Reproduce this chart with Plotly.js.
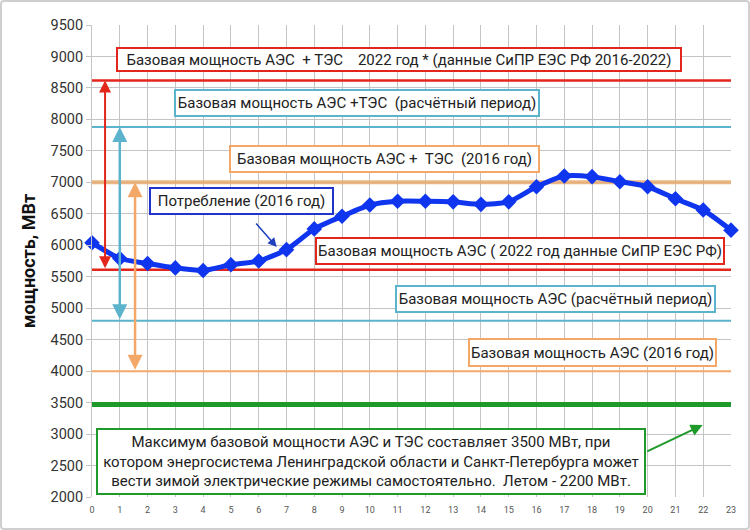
<!DOCTYPE html>
<html><head><meta charset="utf-8">
<script src="https://cdn.plot.ly/plotly-3.0.1.min.js"></script>
<style>
body{margin:0;padding:0;background:#fff;}
#chart{position:absolute;left:0;top:0;width:750px;height:530px;}
#frame{position:absolute;left:0;top:0;width:746px;height:526px;border:2px solid #cfcfcf;border-radius:4px;pointer-events:none;}
</style>
</head><body>
<div id="chart"></div><div id="frame"></div>
<script>
// Data
var hours = [0,1,2,3,4,5,6,7,8,9,10,11,12,13,14,15,16,17,18,19,20,21,22,23];
var consumption2016 = [6040,5790,5710,5640,5600,5690,5750,5930,6260,6460,6640,6700,6700,6690,6650,6690,6930,7100,7090,7010,6930,6740,6560,6240];
var levelNames = ["АЭС+ТЭС 2022","АЭС+ТЭС расчётный","АЭС+ТЭС 2016","АЭС 2022","АЭС расчётный","АЭС 2016","Максимум 3500"];
var levelValues = [8620,7880,7000,5610,4800,4000,3470];
var levelRange = [0,23];
var yTicks = [2000,2500,3000,3500,4000,4500,5000,5500,6000,6500,7000,7500,8000,8500,9000,9500];

var red = '#e3261c', teal = '#5bb3cc', orange = '#f4a868', green = '#1f9a2a', blue = '#0f35ee';
var levelColors = [red, teal, 'rgba(232,170,110,0.85)', red, teal, orange, green];
var levelWidths = [2.5, 2, 4, 2.5, 2, 2, 5];

var traces = [];
for (var i = 0; i < levelValues.length; i++) {
  traces.push({x: levelRange, y: [levelValues[i], levelValues[i]], mode: 'lines', name: levelNames[i],
    line: {color: levelColors[i], width: levelWidths[i]}, hoverinfo: 'skip', showlegend: false});
}
traces.push({x: hours, y: consumption2016, mode: 'lines+markers', name: 'Потребление (2016 год)',
  line: {color: blue, width: 5, shape: 'spline', smoothing: 0.6},
  marker: {symbol: 'diamond', size: 12, color: blue}, cliponaxis: false, showlegend: false});

var F = 'Roboto, "Noto Sans", sans-serif';
function box(text, x, y, w, h, color) {
  return {text: text, x: x, y: y, xref: 'x', yref: 'y', showarrow: false, width: w, height: h,
    bgcolor: '#fff', bordercolor: color, borderwidth: 2, borderpad: 0,
    font: {family: F, size: 15, color: '#222'}, xanchor: 'center', yanchor: 'middle'};
}
function arr(x0, y0, x1, y1, color, both, w) {
  return {text: '', x: x1, y: y1, ax: x0, ay: y0, xref: 'x', yref: 'y', axref: 'x', ayref: 'y',
    showarrow: true, arrowhead: 2, arrowsize: 1.2, arrowwidth: w || 2, arrowcolor: color,
    arrowside: both ? 'end+start' : 'end', startarrowhead: 2, startarrowsize: 1.2};
}

var annotations = [
  box('Базовая мощность АЭС  + ТЭС    2022 год * (данные СиПР ЕЭС РФ 2016-2022)', 11.04, 8952, 562, 21, red),
  box('Базовая мощность АЭС +ТЭС  (расчётный период)', 9.53, 8261, 362, 24, teal),
  box('Базовая мощность АЭС +  ТЭС  (2016 год)', 10.52, 7371, 307, 24, orange),
  box('Потребление (2016 год)', 5.38, 6703, 181, 24, '#2233cc'),
  box('Базовая мощность АЭС ( 2022 год данные СиПР ЕЭС РФ)', 15.4, 5909, 406, 24, red),
  box('Базовая мощность АЭС (расчётный период)', 16.67, 5146, 317, 24, teal),
  box('Базовая мощность АЭС (2016 год)', 18.0, 4296, 245, 25, orange),
  box('Максимум базовой мощности АЭС и ТЭС составляет 3500 МВт, при<br>котором энергосистема Ленинградской области и Санкт-Петербурга может<br>вести зимой электрические режимы самостоятельно.  Летом - 2200 МВт.', 10.04, 2564, 546, 63, green),
  arr(0.47, 5610, 0.47, 8620, red, true, 2),
  arr(1.0, 4800, 1.0, 7880, teal, true, 2.5),
  arr(1.55, 4000, 1.55, 7000, orange, true, 2.5),
  arr(5.86, 6370, 6.65, 5972, '#1f3fbf', false, 1.5),
  arr(19.93, 2715, 21.98, 3144, green, false, 2)
];

var layout = {
  width: 750, height: 530,
  margin: {l: 92, r: 19, t: 25, b: 33},
  paper_bgcolor: '#fff', plot_bgcolor: '#fff',
  font: {family: F},
  xaxis: {range: [0, 23], dtick: 1, tick0: 0, showgrid: true, gridcolor: '#c4c4c4', gridwidth: 1,
    zeroline: false, showline: false, ticks: '', ticklabelstandoff: 6,
    tickfont: {size: 9, color: '#555', family: F}, fixedrange: true},
  yaxis: {range: [2000, 9500], tickvals: yTicks, showgrid: true, gridcolor: '#c4c4c4', gridwidth: 1,
    zeroline: false, showline: true, linecolor: '#c4c4c4', ticks: 'outside', ticklen: 5, tickcolor: '#c4c4c4',
    tickfont: {size: 14.5, color: '#333', family: F},
    title: {text: 'мощность, МВт', font: {size: 18, color: '#111', family: F, weight: 'bold'}, standoff: 10}},
  annotations: annotations,
  showlegend: false
};
Plotly.newPlot('chart', traces, layout, {displayModeBar: false, staticPlot: true});
</script>
</body></html>
